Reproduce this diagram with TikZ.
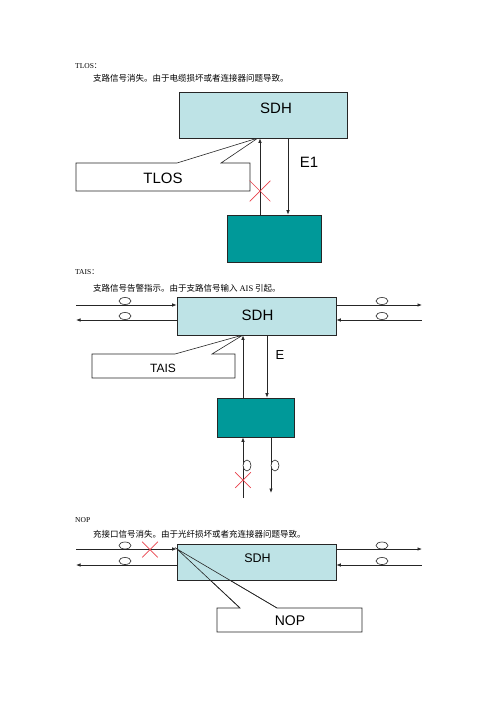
\documentclass[tikz,border=0pt]{standalone}
\usepackage{fontspec}
\setmainfont{Liberation Serif}
\newfontfamily\cjk{Noto Sans CJK SC}
\newfontfamily\arial{Liberation Sans}
\usetikzlibrary{positioning, calc, arrows.meta, shapes.misc}
\definecolor{sdhfill}{RGB}{190,227,230}
\definecolor{unitfill}{RGB}{0,153,153}
\definecolor{crossred}{RGB}{232,64,74}

\begin{document}
\begin{tikzpicture}[x=1pt, y=-1pt, >={Latex[length=4.5pt,width=3.5pt]},
    sdh/.style={draw=black!85, line width=0.7pt, fill=sdhfill, inner sep=0pt},
    unit/.style={draw=black!85, line width=0.7pt, fill=unitfill, inner sep=0pt},
    sig/.style={draw=black!85, line width=0.7pt},
    fibre/.style={draw=black!85, line width=0.6pt, fill=white},
    callout/.style={draw=black!85, line width=0.6pt, fill=white},
    cross/.style={cross out, draw=crossred, line width=0.7pt, minimum size=#1, inner sep=0pt},
    tag/.style={font=\arial\fontsize{#1}{#1}\selectfont, inner sep=0pt},
    head/.style={anchor=west, font=\fontsize{7.5}{9}\selectfont, inner sep=0pt},
    desc/.style={anchor=west, font=\cjk\fontsize{8.5}{10}\selectfont, inner sep=0pt}]
    \useasboundingbox (0,0) rectangle (496,702);

    % ---------- TLOS ----------
    \node[head] (tlosHead) at (75,66) {TLOS{\cjk ：}};
    \node[desc] (tlosDesc) at (93,78) {支路信号消失。由于电缆损坏或者连接器问题导致。};
    \draw[callout] (76,163) -- (177,163) -- (258,138) -- (221,163) -- (250,163) -- (250,191) -- (76,191) -- cycle;
    \node[tag=15] (tlosTag) at (163,178) {TLOS};
    \node[sdh, minimum width=168pt, minimum height=46pt] (sdhA) at (263,115) {};
    \node[tag=15] (sdhAText) at (276,108) {SDH};
    \node[unit, minimum width=94pt, minimum height=47pt] (unitA) at (274,238.5) {};
    \coordinate (upA) at (260,0);
    \coordinate (dnA) at (288,0);
    \draw[sig,->] (unitA.north -| upA) -- (sdhA.south -| upA);
    \draw[sig,->] (sdhA.south -| dnA) -- (unitA.north -| dnA);
    \node[tag=15] (e1A) at (309,162) {E1};
    \node[cross=20pt] (xA) at (260,191) {};

    % ---------- TAIS ----------
    \node[head] (taisHead) at (75,272) {TAIS{\cjk ：}};
    \node[desc] (taisDesc) at (93,288) {支路信号告警指示。由于支路信号输入 {\rmfamily AIS} 引起。};
    \draw[callout] (92,354) -- (175,354) -- (243,335) -- (212,354) -- (235,354) -- (235,378) -- (92,378) -- cycle;
    \node[tag=12] (taisTag) at (163,368) {TAIS};
    \node[sdh, minimum width=159pt, minimum height=38pt] (sdhB) at (256.5,316) {};
    \node[tag=15] (sdhBText) at (257.5,315) {SDH};
    \node[unit, minimum width=77pt, minimum height=39pt] (unitB) at (255.5,417.5) {};
    \coordinate (lB1) at (76,305);
    \coordinate (lB2) at (76,320);
    \coordinate (rB1) at (422,305);
    \coordinate (rB2) at (422,320);
    \draw[sig,->] (lB1) -- (lB1 -| sdhB.west);
    \draw[sig,<-] (lB2) -- (lB2 -| sdhB.west);
    \draw[sig,->] (rB1 -| sdhB.east) -- (rB1);
    \draw[sig,<-] (rB2 -| sdhB.east) -- (rB2);
    \foreach \x in {125,382} {
        \draw[fibre] (\x,301) ellipse [x radius=6pt, y radius=3.5pt];
        \draw[fibre] (\x,316) ellipse [x radius=6pt, y radius=3.5pt];
    }
    \coordinate (upB) at (243,0);
    \coordinate (dnB) at (267,0);
    \draw[sig,->] (unitB.north -| upB) -- (sdhB.south -| upB);
    \draw[sig,->] (sdhB.south -| dnB) -- (unitB.north -| dnB);
    \node[tag=13] (eB) at (280,355) {E};
    \coordinate (inB) at (243,498);
    \coordinate (outB) at (271,493);
    \draw[sig,->] (inB) -- (unitB.south -| inB);
    \draw[sig,->] (unitB.south -| outB) -- (outB);
    \draw[fibre] (247,465.5) ellipse [x radius=4pt, y radius=5.5pt];
    \draw[fibre] (275,465.5) ellipse [x radius=4pt, y radius=5.5pt];
    \node[cross=15pt] (xB) at (243,480) {};

    % ---------- NOP ----------
    \node[head] (nopHead) at (75,520) {NOP};
    \node[desc] (nopDesc) at (93,534) {充接口信号消失。由于光纤损坏或者充连接器问题导致。};
    \draw[callout] (217,608) -- (240,608) -- (177,549) -- (277,608) -- (362,608) -- (362,632) -- (217,632) -- cycle;
    \node[sdh, minimum width=159pt, minimum height=36pt] (sdhC) at (256.5,562) {};
    \node[tag=12.5] (sdhCText) at (257.5,558) {SDH};
    \draw[sig, line width=0.6pt] (240,608) -- (177,549) -- (277,608);
    \node[tag=14] (nopTag) at (290,621) {NOP};
    \coordinate (lC1) at (76,549);
    \coordinate (lC2) at (76,565);
    \coordinate (rC1) at (422,549);
    \coordinate (rC2) at (422,565);
    \draw[sig,->] (lC1) -- (lC1 -| sdhC.west);
    \draw[sig,<-] (lC2) -- (lC2 -| sdhC.west);
    \draw[sig,->] (rC1 -| sdhC.east) -- (rC1);
    \draw[sig,<-] (rC2 -| sdhC.east) -- (rC2);
    \foreach \x in {125,382} {
        \draw[fibre] (\x,545.5) ellipse [x radius=6pt, y radius=3.5pt];
        \draw[fibre] (\x,561) ellipse [x radius=6pt, y radius=3.5pt];
    }
    \node[cross=15pt] (xC) at (150,549.5) {};
\end{tikzpicture}
\end{document}
